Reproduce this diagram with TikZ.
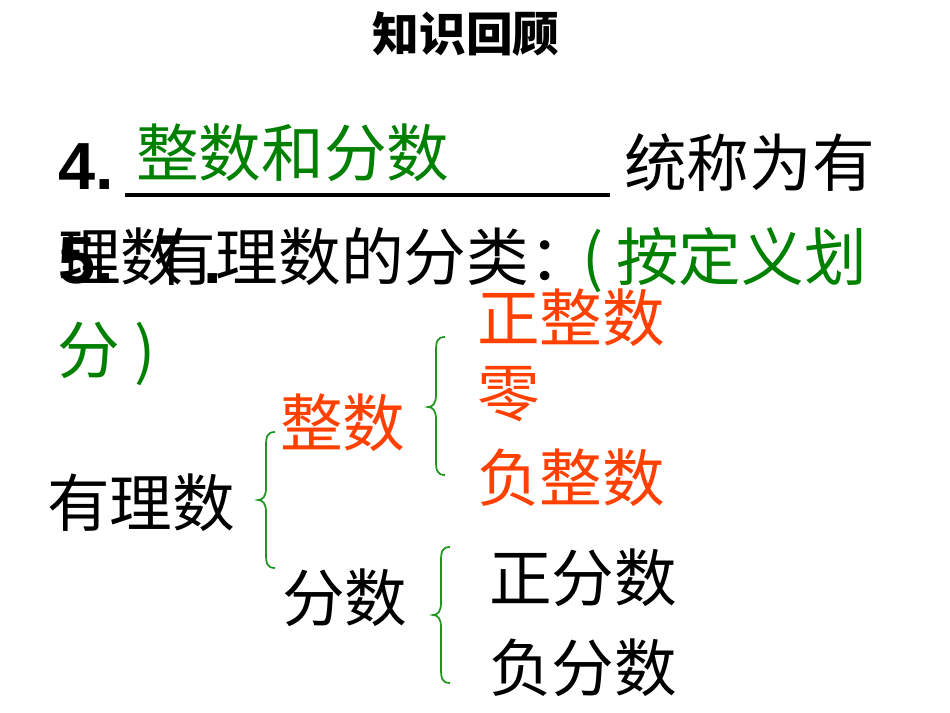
\documentclass[tikz,border=0pt]{standalone}
\usepackage{fontspec}
\newfontfamily\cjk{Noto Sans CJK SC}
\newfontfamily\arial{Liberation Sans}
\definecolor{tgreen}{RGB}{0,128,0}
\definecolor{tred}{RGB}{255,64,0}
\definecolor{bgreen}{RGB}{30,150,30}
\tikzset{
  txt/.style={inner sep=0pt, anchor=base west, font=\cjk\fontsize{47pt}{47pt}\selectfont},
  ttl/.style={inner sep=0pt, anchor=base, font=\cjk\bfseries\fontsize{35pt}{35pt}\selectfont},
  num/.style={inner sep=0pt, anchor=base west, font=\arial\bfseries\fontsize{50pt}{50pt}\selectfont},
  brace/.style={draw=bgreen, line width=1.3pt},
  uline/.style={draw=black, line width=3pt},
}
\begin{document}
\begin{tikzpicture}[x=0.75pt,y=-0.75pt]
\useasboundingbox (0,0) rectangle (950,713);
% title
\node[ttl] (title) at (466,52) {知识回顾};
% line 4
\node[num] (n4) at (58,190) {4.};
\node[txt, text=tgreen] (ans) at (136,177) {整数和分数};
\coordinate (ulA) at (125,195);
\coordinate (ulB) at (610,195);
\draw[uline] (ulA) -- (ulB);
\node[txt] (t4) at (624,187) {统称为有};
% line 5 (overlapping with wrapped text)
\node[txt] (wrap) at (58,281) {理数};
\node[num] (wrapdot) at (203,283) {.};
\node[num] (n5) at (58,283) {5.};
\node[txt] (t5) at (153,281) {有理数的分类：};
\node[txt, text=tgreen] (lp) at (582,281) {(};
\node[txt, text=tgreen] (t5g) at (616,281) {按定义划};
\node[txt, text=tgreen] (t5g2) at (57,373) {分};
\node[txt, text=tgreen] (rp) at (134,373) {)};
% tree
\node[txt] (root) at (47,526) {有理数};
\node[txt, text=tred] (zs) at (280,446) {整数};
\node[txt] (fs) at (282,621) {分数};
\node[txt, text=tred] (zzs) at (477,341) {正整数};
\node[txt, text=tred] (ling) at (477,416) {零};
\node[txt, text=tred] (fzs) at (477,501) {负整数};
\node[txt] (zfs) at (489,601) {正分数};
\node[txt] (ffs) at (489,691) {负分数};
% braces
\draw[brace] (275,432) .. controls (267,432) and (266,437) .. (266,446) -- (266,488)
  .. controls (266,496) and (263,500) .. (258,500)
  .. controls (263,500) and (266,504) .. (266,512) -- (266,554)
  .. controls (266,563) and (267,568) .. (275,568);
\draw[brace] (445,337) .. controls (437,337) and (436,342) .. (436,351) -- (436,395)
  .. controls (436,403) and (433,407) .. (428,407)
  .. controls (433,407) and (436,411) .. (436,419) -- (436,461)
  .. controls (436,470) and (437,475) .. (445,475);
\draw[brace] (450,547) .. controls (442,547) and (441,552) .. (441,561) -- (441,603)
  .. controls (441,611) and (438,615) .. (433,615)
  .. controls (438,615) and (441,619) .. (441,627) -- (441,669)
  .. controls (441,678) and (442,683) .. (450,683);
\end{tikzpicture}
\end{document}
